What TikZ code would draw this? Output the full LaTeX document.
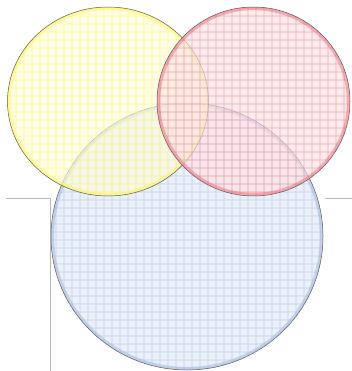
\documentclass[tikz,border=0pt]{standalone}
\definecolor{yel}{RGB}{255,240,0}
\definecolor{rd}{RGB}{235,40,60}
\definecolor{bl}{RGB}{110,150,210}
\tikzset{
  frameline/.style={draw=gray!55, line width=0.8pt},
  outline/.style={draw=black!65, line width=0.5pt},
}
% #1 colour, #2 centre, #3 x radius, #4 y radius, #5 fill opacity
\newcommand\vennblob[5]{%
  \begin{scope}
    \clip #2 ellipse [x radius=#3, y radius=#4];
    \fill[#1!14, fill opacity=#5] (0,0) rectangle (352,371);
    \foreach \gx in {0,8,...,352} {\draw[#1!50, line width=1.4pt, opacity=0.3] (\gx,0) -- (\gx,371);}
    \foreach \gy in {0,8,...,371} {\draw[#1!50, line width=1.4pt, opacity=0.3] (0,\gy) -- (352,\gy);}
  \end{scope}
  \draw[#1!70, line width=3pt, opacity=0.5] #2 ellipse [x radius=#3-1.6, y radius=#4-1.6];
  \draw[outline] #2 ellipse [x radius=#3, y radius=#4];
}
\begin{document}
\begin{tikzpicture}[x=1pt,y=-1pt]
\useasboundingbox (0,0) rectangle (352,371);
\draw[frameline] (6,198) -- (50,198) -- (50,371);
\draw[frameline] (325,198) -- (352,198);
% blue (opaque base)
\fill[white] (187,236.5) ellipse [x radius=136, y radius=133.5];
\vennblob{bl}{(187,236.5)}{136}{133.5}{1}
% yellow
\vennblob{yel}{(108,101.5)}{100.5}{94.5}{0.6}
% red
\vennblob{rd}{(253.5,101.5)}{96.5}{94.5}{0.6}
\end{tikzpicture}
\end{document}
